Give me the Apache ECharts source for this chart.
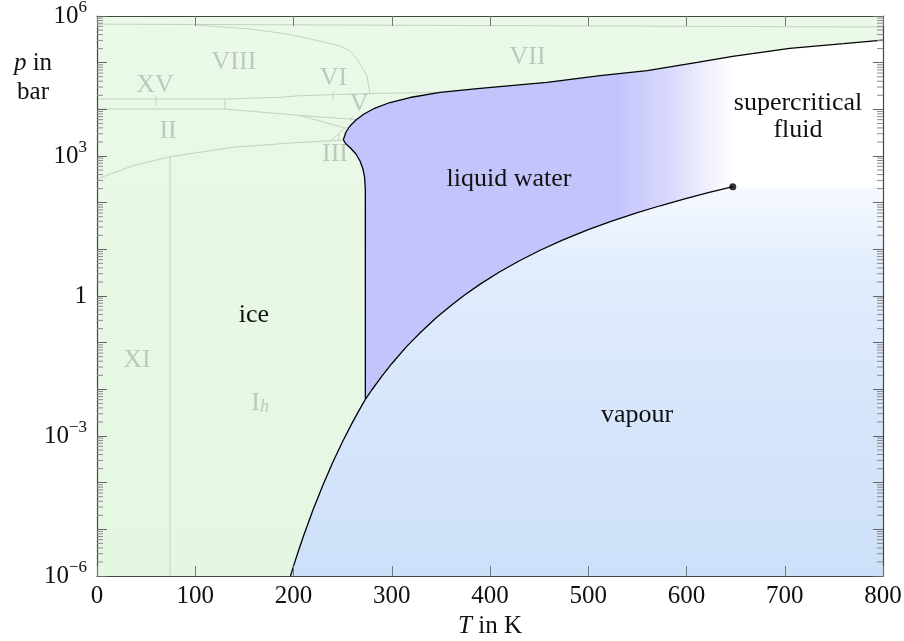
<!DOCTYPE html>
<html>
<head>
<meta charset="utf-8">
<script src="https://cdn.jsdelivr.net/npm/echarts@6/dist/echarts.min.js"></script>
<style>
  html, body { margin: 0; padding: 0; background: #fff; }
  #chart { width: 904px; height: 641px; }
</style>
</head>
<body>
<div id="chart"></div>
<script>
const FONT = 'Liberation Serif';

// axis ticks
const xTicks = [0, 100, 200, 300, 400, 500, 600, 700, 800];
const yDecades = [-6, -5, -4, -3, -2, -1, 0, 1, 2, 3, 4, 5, 6];
const minorMult = [2, 3, 4, 5, 6, 7, 8, 9];

// sublimation curve (ice / vapour), T in K, p in bar
const subT = [196.9, 200, 205, 210, 220, 230, 240, 250, 260, 270, 273.16];
const subP = [1.0e-6, 1.63e-6, 3.44e-6, 7.02e-6, 2.66e-5, 8.95e-5, 2.73e-4, 7.6e-4, 1.96e-3, 4.7e-3, 6.11e-3];

// vaporisation curve up to the critical point
const vapT = [273.16, 280, 290, 300, 315, 330, 345, 360, 373.15, 390, 410, 430, 450, 473.15, 500, 523.15, 550, 573.15, 600, 623.15, 640, 647.1];
const vapP = [6.11e-3, 9.92e-3, 0.0192, 0.0354, 0.0822, 0.172, 0.337, 0.621, 1.013, 1.795, 3.30, 5.70, 9.32, 15.55, 26.4, 39.76, 61.2, 85.88, 123.5, 165.2, 202.7, 220.6];

// melting curve of ice Ih (triple point up to the Ih-III-liquid point)
const meltIhT = [273.16, 273.15, 273.1, 273.1, 272.3, 270.7, 267.7, 263.6, 257.5, 253.4, 250.7];
const meltIhP = [6.11e-3, 1, 100, 196, 355, 526, 782, 1104, 1520, 1807, 2220];

// melting curve of ices III, V, VI, VII
const meltHiT = [250.7, 253.4, 257.5, 263.6, 271.8, 283.0, 298.2, 318.6, 349.1, 390, 458, 512, 560, 611, 647, 705, 760, 800];
const meltHiP = [2220, 3266, 4395, 5902, 7943, 10670, 14000, 17920, 23170, 28200, 37900, 52500, 67300, 101800, 136800, 203000, 255000, 305500];

// critical point
const critT = 647.1;
const critP = 220.6;

// ice phase boundaries (grey)
const bndVIIX_T = [0, 800];
const bndVIIX_P = [6.7e5, 5.8e5];
const bndVIIVIII_T = [99.7, 155.7, 186.3, 206.6, 247.3, 257.5, 264.6, 269.7, 274.8, 277.9];
const bndVIIVIII_P = [6.41e5, 5.26e5, 4.32e5, 3.63e5, 2.28e5, 1.78e5, 1.2e5, 8.07e4, 5.18e4, 2.18e4];
const bndVI_T = [0, 130.3, 186.3, 206.6, 277.9, 349.1];
const bndVI_P = [16640, 16640, 18070, 19600, 21830, 23170];
const bndII_T = [0, 130.3, 206.6, 252.4];
const bndII_P = [10160, 10160, 7380, 3980];
const bndVVI_T = [206.6, 264.3];
const bndVVI_P = [7380, 6050];
const bndIIIV_T = [252.4, 256.5];
const bndIIIV_P = [3980, 4085];
const bndIIIII_T = [238.2, 252.4];
const bndIIIII_P = [2128, 3980];
const bndIh_T = [0, 36.6, 74.3, 138.4, 206.6, 238.2, 250.7];
const bndIh_P = [321, 620, 966, 1536, 1965, 2128, 2220];
const bndXI_T = [74.3, 74.3];
const bndXI_P = [1e-6, 966];
const bndXV_T = [130.3, 130.3];
const bndXV_P = [10160, 16640];
const marks = [
  [[60, 60], [11780, 19280]],
  [[240.3, 240.3], [15300, 24700]],
  [[257.5, 260.6], [5620, 7190]],
  [[246.3, 246.3], [2130, 2960]]
];

// phase labels
const phaseText = ['VIII', 'XV', 'II', 'VI', 'V', 'III', 'VII', 'XI', '{r|I}{h|h}'];
const phaseT = [139.4, 59, 72.3, 240.7, 266.7, 242.2, 438.2, 40.7, 166];
const phaseP = [1.0e5, 3.32e4, 3350, 4.69e4, 1.3e4, 1104, 1.29e5, 0.0425, 5.1e-3];

const regionText = ['ice', 'liquid water', 'supercritical\nfluid', 'vapour'];
const regionT = [159.8, 419.3, 713.5, 549.6];
const regionP = [0.392, 321, 7020, 2.82e-3];

const L = Math.log10;
const pts = (T, P) => T.map((t, i) => [t, L(P[i])]);

const sub = pts(subT, subP);
const vap = pts(vapT, vapP);
const meltIh = pts(meltIhT, meltIhP);
const meltHi = pts(meltHiT, meltHiP);
const crit = [critT, L(critP)];

const icePoly = [[0, -6]].concat(sub, meltIh.slice(1), meltHi.slice(1), [[800, 6], [0, 6]]);
const vapPoly = sub.concat(vap.slice(1), [[800, L(critP)], [800, -6]]);
const liqTop = meltHi.filter(p => p[0] <= critT);
const liqPoly = meltIh.concat(liqTop.slice(1), vap.slice().reverse());

function polySeries(points, fill, z) {
  return {
    type: 'custom', z: z, silent: true, clip: true,
    data: [[0, 0]],
    renderItem: (params, api) => ({
      type: 'polygon',
      shape: { points: points.map(p => api.coord(p)) },
      style: { fill: fill(api), stroke: null }
    })
  };
}

function lineSeries(data, color, width, z) {
  return {
    type: 'line', data: data, z: z, silent: true,
    showSymbol: false, symbol: 'none', smooth: false,
    lineStyle: { color: color, width: width },
    animation: false
  };
}

const GREY = '#c3d2c1';
const greyLines = [
  [bndVIIX_T, bndVIIX_P], [bndVIIVIII_T, bndVIIVIII_P], [bndVI_T, bndVI_P],
  [bndII_T, bndII_P], [bndVVI_T, bndVVI_P], [bndIIIV_T, bndIIIV_P],
  [bndIIIII_T, bndIIIII_P], [bndIh_T, bndIh_P], [bndXI_T, bndXI_P], [bndXV_T, bndXV_P]
].concat(marks).map(b => lineSeries(pts(b[0], b[1]), GREY, 1, 3));

// minor ticks of the log axis
const minorVals = [];
yDecades.slice(0, -1).forEach(n => minorMult.forEach(k => minorVals.push([0, n + L(k)])));

const LG = echarts.graphic.LinearGradient;
const axisLine = { show: true, onZero: false, lineStyle: { color: '#444', width: 1.2 } };

const option = {
  animation: false,
  backgroundColor: '#fff',
  grid: { left: 97, right: 21, top: 16, bottom: 65, containLabel: false, outerBoundsMode: 'none' },
  xAxis: [{
    type: 'value', min: 0, max: 800, interval: 100, position: 'bottom', z: 5,
    name: '{i|T} in K', nameLocation: 'middle', nameGap: 36,
    nameTextStyle: { fontFamily: FONT, fontSize: 25, color: '#111',
      rich: { i: { fontFamily: FONT, fontSize: 25, fontStyle: 'italic', color: '#111' } } },
    axisLine: axisLine,
    axisTick: { show: true, inside: true, length: 10, lineStyle: { color: '#777' } },
    axisLabel: { margin: 8, fontFamily: FONT, fontSize: 25, color: '#111',
      formatter: v => xTicks.includes(v) ? String(v) : '' },
    splitLine: { show: false }
  }, {
    type: 'value', min: 0, max: 800, interval: 100, position: 'top', z: 5,
    axisLine: axisLine,
    axisTick: { show: true, inside: true, length: 10, lineStyle: { color: '#777' } },
    axisLabel: { show: false },
    splitLine: { show: false }
  }],
  yAxis: [{
    type: 'value', min: -6, max: 6, interval: 1, position: 'left', z: 5,
    axisLine: axisLine,
    axisTick: { show: true, inside: true, length: 10, lineStyle: { color: '#666' } },
    axisLabel: {
      margin: 10,
      formatter: v => {
        const n = Math.round(v);
        if (n % 3 !== 0) return '';
        if (n === 0) return '{b|1}';
        return '{b|10}{s|' + (n < 0 ? '\u2212' : '') + Math.abs(n) + '}';
      },
      rich: {
        b: { fontFamily: FONT, fontSize: 25, lineHeight: 34, color: '#111' },
        s: { fontFamily: FONT, fontSize: 17, lineHeight: 17, verticalAlign: 'top', color: '#111' }
      }
    },
    splitLine: { show: false }
  }, {
    type: 'value', min: -6, max: 6, interval: 1, position: 'right', z: 5,
    axisLine: axisLine,
    axisTick: { show: true, inside: true, length: 10, lineStyle: { color: '#666' } },
    axisLabel: { show: false },
    splitLine: { show: false }
  }],
  graphic: [
    { type: 'text', x: 33, y: 63, style: { text: '{i|p} in', fontFamily: FONT, fontSize: 25, fill: '#111',
      align: 'center', verticalAlign: 'middle',
      rich: { i: { fontFamily: FONT, fontSize: 25, fontStyle: 'italic', fill: '#111' } } } },
    { type: 'text', x: 33, y: 92, style: { text: 'bar', fontFamily: FONT, fontSize: 25, fill: '#111',
      align: 'center', verticalAlign: 'middle' } }
  ],
  series: [
    // ice
    polySeries(icePoly, api => {
      const a = api.coord([0, 6]), b = api.coord([0, -6]);
      return new LG(0, a[1], 0, b[1], [
        { offset: 0, color: '#ebf9e8' }, { offset: 1, color: '#e4f7e1' }], true);
    }, 1),
    // vapour
    polySeries(vapPoly, api => {
      const a = api.coord([0, L(critP)]), b = api.coord([0, -6]);
      return new LG(0, a[1], 0, b[1], [
        { offset: 0, color: '#f6faff' }, { offset: 0.2, color: '#e2edfc' },
        { offset: 0.55, color: '#d7e6fb' }, { offset: 1, color: '#cde0f9' }], true);
    }, 1),
    // liquid water
    polySeries(liqPoly, api => {
      const a = api.coord([530, 0]), b = api.coord([critT, 0]);
      return new LG(a[0], 0, b[0], 0, [
        { offset: 0, color: '#c4c4fc' }, { offset: 0.5, color: '#dcdcfd' }, { offset: 1, color: '#ffffff' }], true);
    }, 1),
    ...greyLines,
    // black phase boundaries
    lineSeries(sub, '#000', 1.3, 4),
    lineSeries(vap, '#000', 1.3, 4),
    lineSeries(meltIh, '#000', 1.3, 4),
    lineSeries(meltHi, '#000', 1.3, 4),
    // critical point
    { type: 'scatter', data: [crit], symbol: 'circle', symbolSize: 7, z: 6, silent: true,
      itemStyle: { color: '#000' } },
    // phase labels
    {
      type: 'custom', z: 4, silent: true, clip: false,
      data: phaseT.map((t, i) => [t, L(phaseP[i])]),
      renderItem: (params, api) => {
        const c = api.coord([api.value(0), api.value(1)]);
        return { type: 'text', x: c[0], y: c[1], style: {
          text: phaseText[params.dataIndex], fontFamily: FONT, fontSize: 26, fill: '#bccabb',
          align: 'center', verticalAlign: 'middle',
          rich: {
            r: { fontFamily: FONT, fontSize: 26, fill: '#bccabb' },
            h: { fontFamily: FONT, fontSize: 18, fontStyle: 'italic', fill: '#bccabb', verticalAlign: 'bottom', lineHeight: 18 }
          } } };
      }
    },
    {
      type: 'custom', z: 6, silent: true, clip: false,
      data: regionT.map((t, i) => [t, L(regionP[i])]),
      renderItem: (params, api) => {
        const c = api.coord([api.value(0), api.value(1)]);
        return { type: 'text', x: c[0], y: c[1], style: {
          text: regionText[params.dataIndex], fontFamily: FONT, fontSize: 26, fill: '#111',
          lineHeight: 27, align: 'center', verticalAlign: 'middle' } };
      }
    },
    // minor log ticks on both y axes
    {
      type: 'custom', z: 7, silent: true, clip: false,
      data: minorVals,
      renderItem: (params, api) => {
        const y = api.value(1);
        const l = api.coord([0, y]), r = api.coord([800, y]);
        const st = { stroke: '#8c8c8c', lineWidth: 1 };
        return { type: 'group', children: [
          { type: 'line', shape: { x1: l[0], y1: l[1], x2: l[0] + 6, y2: l[1] }, style: st },
          { type: 'line', shape: { x1: r[0] - 6, y1: r[1], x2: r[0], y2: r[1] }, style: st }
        ] };
      }
    }
  ]
};

const chart = echarts.init(document.getElementById('chart'));
chart.setOption(option);
window.addEventListener('resize', () => chart.resize());
</script>
</body>
</html>
